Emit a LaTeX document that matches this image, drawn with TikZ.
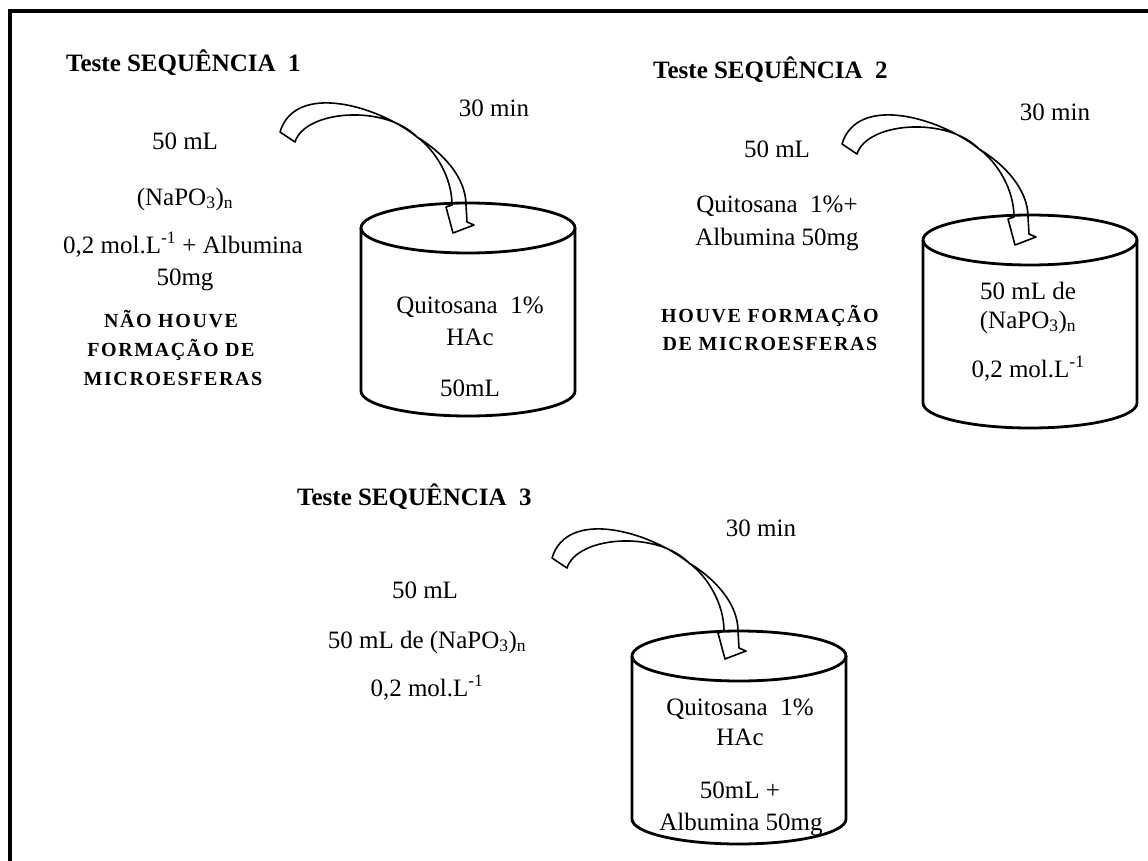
\documentclass[tikz,border=0pt]{standalone}
\usepackage{fontspec}
\setmainfont{Liberation Serif}
\newcommand{\plaintext}{\fontsize{25}{31}\selectfont}
\newcommand{\titletext}{\fontsize{25}{31}\selectfont\bfseries}
\newcommand{\resulttext}{\fontsize{20}{28}\selectfont\bfseries\addfontfeature{LetterSpace=8}}
\tikzstyle{label_plain} = [font=\plaintext, anchor=base, inner sep=0pt]
\tikzstyle{label_title} = [font=\titletext, anchor=base west, inner sep=0pt]
\tikzstyle{label_result} = [font=\resulttext, anchor=base, inner sep=0pt]
\tikzstyle{edge_cylinder} = [line width=2.8pt]
\tikzstyle{edge_arrow} = [line width=1.6pt, line join=round]
\tikzstyle{edge_frame} = [line width=4pt]
\tikzset{
  vessel/.pic={
    \draw[edge_cylinder] (0,0) ellipse [x radius=107, y radius=25];
    \draw[edge_cylinder] (-107,0) -- (-107,163)
      arc [start angle=180, end angle=0, x radius=107, y radius=25] -- (107,0);
  },
  pour/.pic={
    \draw[edge_arrow] (0,0) .. controls (15,-50) and (97,-27) .. (137,5)
      .. controls (162,20) and (186,45) .. (186,73)
      -- (187,90) -- (194,93) -- (173,101) -- (166,75) -- (172,73)
      .. controls (172,45) and (155,18) .. (137,5)
      .. controls (105,-28) and (25,-22) .. (15,10) -- cycle;
  }
}

\begin{document}
\begin{tikzpicture}[x=1pt, y=-1pt]
\useasboundingbox (0,0) rectangle (1148,861);
\draw[edge_frame] (9.5,875) -- (9.5,11) -- (1160,11);

% sequencia 1
\node (title1) at (66,72) [label_title] {Teste SEQUÊNCIA\ \ 1};
\node (time1) at (494,117) [label_plain] {30 min};
\node (vol1) at (185,150) [label_plain] {50 mL};
\node (salt1) at (185,205) [label_plain] {(NaPO\textsubscript{3})\textsubscript{n}};
\node (conc1) at (183,253) [label_plain] {0,2 mol.L\textsuperscript{-1} + Albumina};
\node (mass1) at (185,285) [label_plain] {50mg};
\node (res1a) at (171,327) [label_result] {NÃO HOUVE};
\node (res1b) at (171,356) [label_result] {FORMAÇÃO DE};
\node (res1c) at (173,385) [label_result] {MICROESFERAS};
\pic at (468,228) {vessel};
\pic at (280,132) {pour};
\node (in1a) at (470,313) [label_plain] {Quitosana\ \ 1\%};
\node (in1b) at (470,345) [label_plain] {HAc};
\node (in1c) at (470,396) [label_plain] {50mL};

% sequencia 2
\node (title2) at (653,79) [label_title] {Teste SEQUÊNCIA\ \ 2};
\node (time2) at (1055,121) [label_plain] {30 min};
\node (vol2) at (777,158) [label_plain] {50 mL};
\node (mix2a) at (777,213) [label_plain] {Quitosana\ \ 1\%+};
\node (mix2b) at (777,245) [label_plain] {Albumina 50mg};
\node (res2a) at (770,322) [label_result] {HOUVE FORMAÇÃO};
\node (res2b) at (770,350) [label_result] {DE MICROESFERAS};
\pic at (1030,240) {vessel};
\pic at (842,144) {pour};
\node (in2a) at (1028,299) [label_plain] {50 mL de};
\node (in2b) at (1028,328) [label_plain] {(NaPO\textsubscript{3})\textsubscript{n}};
\node (in2c) at (1028,377) [label_plain] {0,2 mol.L\textsuperscript{-1}};

% sequencia 3
\node (title3) at (297,505) [label_title] {Teste SEQUÊNCIA\ \ 3};
\node (time3) at (761,536) [label_plain] {30 min};
\node (vol3) at (425,598) [label_plain] {50 mL};
\node (salt3) at (427,648) [label_plain] {50 mL de (NaPO\textsubscript{3})\textsubscript{n}};
\node (conc3) at (427,696) [label_plain] {0,2 mol.L\textsuperscript{-1}};
\pic at (739,656) {vessel};
\pic at (552,558) {pour};
\node (in3a) at (740,715) [label_plain] {Quitosana\ \ 1\%};
\node (in3b) at (740,745) [label_plain] {HAc};
\node (in3c) at (740,798) [label_plain] {50mL +};
\node (in3d) at (741,830) [label_plain] {Albumina 50mg};
\end{tikzpicture}
\end{document}
